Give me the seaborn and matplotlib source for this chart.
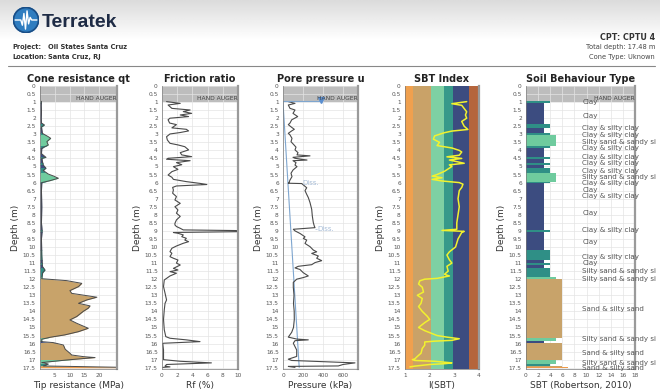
import numpy as np
import seaborn as sns
import matplotlib.pyplot as plt
from matplotlib.patches import Rectangle, Circle
from matplotlib.ticker import FuncFormatter, MultipleLocator

qt_depth = [0.95, 1.2, 1.6, 2.0, 2.3, 2.42, 2.55, 2.94, 3.15, 3.25, 3.46, 3.66, 3.87, 4.2, 4.43, 4.5,
            4.91, 5.1, 5.25, 5.47, 5.59, 5.73, 5.88, 6.0, 6.5, 7.5, 8.5, 9.0, 9.5, 10.5, 11.2, 11.43,
            11.6, 11.97, 12.09, 12.26, 12.46, 12.71, 12.88, 13.12, 13.29, 13.5, 13.66, 13.8, 14.0,
            14.32, 14.53, 14.74, 15.05, 15.26, 15.46, 15.61, 15.73, 15.88, 15.94, 16.09, 16.35, 16.6,
            16.71, 16.81, 16.87, 17.02, 17.18, 17.27, 17.39, 17.47, 17.5]
qt_val = [0.5, 0.4, 0.5, 0.4, 0.5, 1.5, 0.5, 0.8, 2.8, 3.6, 2.3, 2.8, 0.6, 0.5, 2.0, 0.6,
          1.1, 2.0, 1.1, 2.8, 4.5, 6.2, 3.4, 0.6, 0.5, 0.6, 0.5, 0.7, 0.5, 0.6, 0.8, 1.7,
          0.9, 0.6, 9.0, 14.1, 13.0, 10.1, 10.7, 19.2, 15.8, 13.0, 16.9, 16.3, 14.6,
          12.4, 10.1, 12.4, 16.3, 13.0, 8.4, 3.4, 0.6, 0.6, 4.5, 7.9, 8.5, 10.1,
          10.7, 14.6, 18.6, 9.0, 0.6, 2.8, 1.1, 25.9, 25.9]

rf_depth = [0.97, 1.08, 1.18, 1.39, 1.49, 1.59, 1.7, 1.8, 1.9, 2.0,
            2.1, 2.3, 2.4, 2.6, 2.69, 2.79, 2.89, 2.98, 3.15, 3.35,
            3.56, 3.66, 3.77, 3.97, 4.14, 4.28, 4.39, 4.49, 4.55, 4.64,
            4.76, 4.89, 5.01, 5.18, 5.32, 5.53, 5.67, 5.8, 5.94, 6.05,
            6.12, 6.21, 6.3, 6.46, 6.66, 6.87, 7.08, 7.29, 7.5, 7.7,
            7.9, 8.1, 8.32, 8.53, 8.63, 8.73, 8.84, 8.94, 8.98, 9.05,
            9.1, 9.15, 9.25, 9.36, 9.46, 9.57, 9.67, 9.77, 9.94, 10.08,
            10.29, 10.39, 10.6, 10.7, 10.81, 11.0, 11.12, 11.33, 11.43, 11.53,
            11.63, 11.8, 11.95, 12.05, 12.46, 12.87, 13.29, 13.5, 13.9, 14.5,
            15.15, 15.57, 15.67, 15.77, 15.88, 15.98, 16.0, 16.4, 16.8, 17.0,
            17.1, 17.2, 17.3, 17.4, 17.45, 17.48]
rf_val = [0.6, 2.4, 0.8, 1.3, 3.7, 2.8, 3.9, 2.4, 3.5, 1.05,
          0.8, 1.0, 1.9, 1.3, 3.2, 3.5, 2.4, 1.05, 0.6, 0.7,
          1.05, 2.1, 3.0, 3.5, 2.4, 2.6, 3.9, 0.8, 0.6, 3.7,
          1.9, 2.6, 1.5, 2.1, 1.3, 0.8, 1.3, 1.5, 3.2, 5.0,
          5.9, 1.9, 1.4, 1.5, 1.4, 1.9, 1.7, 2.4, 1.7, 2.1,
          1.9, 2.4, 1.9, 1.7, 1.7, 1.9, 2.4, 2.8, 9.8, 10.0,
          1.5, 2.1, 2.8, 2.6, 3.2, 3.0, 3.5, 2.8, 1.9, 1.3,
          1.05, 1.3, 1.05, 1.5, 2.1, 1.9, 2.4, 1.5, 2.1, 1.05,
          1.9, 1.05, 0.6, 0.3, 0.2, 0.4, 0.6, 0.4, 0.3, 0.2,
          0.3, 0.5, 1.05, 3.2, 5.0, 0.2, 0.1, 0.2, 0.2, 0.2,
          2.4, 6.5, 0.6, 0.4, 1.05, 0.1]

u_depth = [0.97, 1.08, 1.18, 1.39, 1.49, 1.7, 1.9, 2.1, 2.3, 2.4,
           2.57, 2.69, 2.79, 2.94, 3.04, 3.25, 3.46, 3.66, 3.8, 3.97,
           4.14, 4.28, 4.34, 4.43, 4.49, 4.6, 4.64, 4.76, 4.91, 5.01,
           5.22, 5.42, 5.63, 5.84, 6.0, 6.04, 6.06, 6.32, 6.5, 6.73,
           6.93, 7.24, 7.66, 8.07, 8.48, 8.7, 8.8, 8.9, 9.0, 9.16,
           9.37, 9.47, 9.57, 9.78, 9.98, 10.19, 10.3, 10.4, 10.56, 10.7,
           10.85, 10.97, 11.1, 11.2, 11.3, 11.4, 11.6, 11.8, 11.9, 12.0,
           12.2, 12.5, 13.0, 13.5, 14.0, 14.5, 15.0, 15.3, 15.6, 15.72,
           15.77, 15.82, 15.98, 16.4, 16.8, 16.97, 17.05, 17.2, 17.3, 17.39,
           17.42, 17.48]
u_val = [53, 120, 53, 70, 120, 100, 147, 87, 70, 53,
         87, 113, 87, 53, 70, 90, 80, 110, 130, 120,
         150, 140, 270, 100, 120, 240, 100, 130, 120, 140,
         100, 80, 90, 70, 60, 53, 187, 237, 220, 237,
         253, 270, 287, 293, 303, 313, 320, 103, 120, 170,
         220, 203, 237, 220, 270, 303, 337, 287, 353, 337,
         387, 320, 287, 153, 120, 170, 203, 253, 203, 137,
         103, 103, 110, 105, 112, 113, 105, 87, 53, 137,
         253, 120, 103, 137, 137, 53, 87, 720, 600, 553,
         53, 120]
hyd_depth = [1.0, 17.48]
hyd_val = [0, 162]

ic_depth = [0.97, 1.1, 1.2, 1.4, 1.6, 1.8, 2.0, 2.2, 2.5, 2.7,
            2.8, 2.9, 3.1, 3.3, 3.5, 3.7, 3.85, 4.0, 4.1, 4.3,
            4.4, 4.5, 4.6, 4.8, 4.9, 5.0, 5.2, 5.3, 5.5, 5.6,
            5.7, 5.8, 5.9, 6.0, 6.1, 6.3, 6.5, 7.0, 7.5, 8.0,
            8.5, 8.9, 8.97, 9.03, 9.1, 9.5, 10.0, 10.3, 10.5, 10.8,
            11.0, 11.2, 11.5, 11.7, 11.8, 11.95, 12.0, 12.1, 12.3, 12.5,
            12.8, 13.0, 13.2, 13.5, 13.7, 14.0, 14.3, 14.5, 14.7, 15.0,
            15.2, 15.5, 15.6, 15.7, 15.8, 15.85, 15.9, 16.1, 16.3, 16.6,
            16.8, 16.95, 17.0, 17.05, 17.1, 17.2, 17.25, 17.3, 17.4, 17.45]
ic_val = [3.5, 2.9, 3.3, 3.4, 3.5, 3.45, 3.5, 3.3, 3.4, 3.55,
          2.9, 2.6, 2.2, 2.15, 2.4, 2.3, 2.9, 3.2, 3.3, 3.2,
          2.7, 3.3, 2.8, 3.4, 2.8, 2.9, 2.7, 2.6, 2.3, 2.1,
          2.5, 2.1, 2.5, 3.2, 3.35, 3.3, 3.2, 3.15, 3.2, 3.15,
          3.1, 3.1, 2.5, 3.4, 3.3, 3.15, 3.05, 2.8, 2.7, 2.8,
          2.9, 2.7, 2.75, 2.6, 2.8, 2.3, 1.8, 1.6, 1.55, 1.7,
          1.75, 1.5, 1.7, 1.65, 1.55, 1.7, 1.9, 2.0, 1.8, 1.55,
          1.8, 2.3, 2.7, 3.2, 2.9, 2.2, 1.8, 1.8, 1.7, 1.65,
          1.5, 1.4, 1.3, 1.4, 2.2, 2.9, 2.6, 2.0, 1.4, 1.2]
ic_bounds = [1.0, 1.31, 2.05, 2.6, 2.95, 3.6, 4.0]
ic_colors = ['#F0A04E', '#C9A268', '#7ED0A3', '#36998A', '#3C4C80', '#B5653C']

sbt_top = [0.93, 1.08, 2.38, 2.63, 2.94, 3.04, 3.73, 3.87, 4.39, 4.55, 4.76, 4.91, 5.07, 5.38, 5.94,
           6.05, 8.95, 9.05, 10.19, 10.81, 11.0, 11.12, 11.33, 11.84, 12.01, 15.67, 15.82, 15.98,
           17.02, 17.27, 17.39, 17.44]
sbt_bot = [1.08, 2.38, 2.63, 2.94, 3.04, 3.73, 3.87, 4.39, 4.55, 4.76, 4.91, 5.07, 5.38, 5.94, 6.05,
           8.95, 9.05, 10.19, 10.81, 11.0, 11.12, 11.33, 11.84, 12.01, 15.67, 15.82, 15.98, 17.02,
           17.27, 17.39, 17.44, 17.5]
sbt_zone = [4, 3, 4, 3, 4, 5, 4, 3, 4, 3, 4, 3, 4, 5, 4,
            3, 4, 3, 4, 3, 4, 3, 4, 5, 6, 5, 3, 6,
            5, 4, 6, 7]
zone_colors = {3: '#3C4C80', 4: '#2F8F86', 5: '#6FCB9E', 6: '#C8A36A', 7: '#EE9B4B'}

# labels as they show in the log (long names run past the panel edge there)
label_depth = [1.01, 1.84, 2.59, 3.07, 3.46, 3.87, 4.43, 4.78, 5.26, 5.67, 6.05, 6.46, 6.83, 7.91,
               8.94, 9.67, 10.6, 11.0, 11.47, 12.0, 13.87, 15.73, 16.6, 17.19, 17.5]
label_text = ['Clay', 'Clay', 'Clay & silty clay', 'Clay & silty clay', 'Silty sand & sandy si',
              'Clay & silty clay', 'Clay & silty clay', 'Clay & silty clay', 'Clay & silty clay',
              'Silty sand & sandy si', 'Clay & silty clay', 'Clay', 'Clay & silty clay', 'Clay',
              'Clay & silty clay', 'Clay', 'Clay & silty clay', 'Clay', 'Silty sand & sandy si',
              'Silty sand & sandy si', 'Sand & silty sand', 'Silty sand & sandy si',
              'Sand & silty sand', 'Silty sand & sandy si', 'Sand & silty sand']

sns.set_style('white')
plt.rcParams['font.family'] = ['DejaVu Sans']

W, H = 660, 390
fig = plt.figure(figsize=(6.6, 3.9), dpi=100)


def px_rect(l, r, t, b):
    return [l / W, 1 - b / H, (r - l) / W, (b - t) / H]


# header background gradient
bg = fig.add_axes([0, 1 - 40 / H, 1, 40 / H], zorder=-5)
grad = np.linspace(0.86, 1.0, 50)[:, None] * np.ones((1, 10))
bg.imshow(grad, aspect='auto', cmap='gray', vmin=0, vmax=1, extent=[0, 1, 0, 1], origin='upper')
bg.axis('off')

# logo
lg = fig.add_axes(px_rect(13, 39, 7, 33))
lg.add_patch(Circle((0.5, 0.5), 0.48, color='#2F7DC0'))
lg.add_patch(Circle((0.5, 0.5), 0.48, fill=False, ec='#1A4E86', lw=1.2))
wx = [0.08, 0.3, 0.36, 0.42, 0.48, 0.54, 0.6, 0.66, 0.72, 0.92]
wy = [0.5, 0.5, 0.3, 0.75, 0.15, 0.85, 0.35, 0.6, 0.5, 0.5]
lg.plot(wx, wy, color='white', lw=1.0)
lg.set_xlim(0, 1)
lg.set_ylim(0, 1)
lg.set_aspect('equal')
lg.axis('off')

fig.text(42 / W, 1 - 27 / H, 'Terratek', fontsize=14, fontweight='bold', color='#1E2B45',
         va='baseline', family='Liberation Sans')
fig.text(12 / W, 1 - 47 / H, 'Project:', fontsize=4.8, fontweight='bold', color='#333', va='center')
fig.text(48 / W, 1 - 47 / H, 'Oil States Santa Cruz', fontsize=4.8, fontweight='bold', color='#333', va='center')
fig.text(12 / W, 1 - 57 / H, 'Location:', fontsize=4.8, fontweight='bold', color='#333', va='center')
fig.text(48 / W, 1 - 57 / H, 'Santa Cruz, RJ', fontsize=4.8, fontweight='bold', color='#333', va='center')
fig.text(655 / W, 1 - 37 / H, 'CPT: CPTU 4', fontsize=5.8, fontweight='bold', color='#333', va='center', ha='right')
fig.text(655 / W, 1 - 47 / H, 'Total depth: 17.48 m', fontsize=4.8, color='#444', va='center', ha='right')
fig.text(655 / W, 1 - 57 / H, 'Cone Type: Uknown', fontsize=4.8, color='#444', va='center', ha='right')
fig.add_artist(plt.Line2D([8 / W, 655 / W], [1 - 66 / H, 1 - 66 / H], color='#888', lw=0.8))

panels = [(40, 117), (162, 238), (283, 358), (405, 479), (526, 635)]
titles = ['Cone resistance qt', 'Friction ratio', 'Pore pressure u', 'SBT Index', 'Soil Behaviour Type']
xlabels = ['Tip resistance (MPa)', 'Rf (%)', 'Pressure (kPa)', 'I(SBT)', 'SBT (Robertson, 2010)']
xlims = [(0, 26), (0, 10), (0, 750), (1, 4), (0, 18)]
xticks = [[5, 10, 15, 20], [0, 2, 4, 6, 8, 10], [0, 200, 400, 600], [1, 2, 3, 4], list(range(0, 19, 2))]

axes = []
for i, (l, r) in enumerate(panels):
    ax = fig.add_axes(px_rect(l, r, 86, 369))
    ax.set_xlim(*xlims[i])
    ax.set_ylim(17.58, 0)
    ax.set_xticks(xticks[i])
    ax.yaxis.set_major_locator(MultipleLocator(0.5))
    ax.yaxis.set_major_formatter(FuncFormatter(lambda v, p: '%g' % v))
    ax.tick_params(labelsize=4.2, length=2, width=0.5, colors='#555', pad=1)
    ax.set_title(titles[i], fontsize=7, fontweight='bold', color='#222', pad=3)
    ax.set_xlabel(xlabels[i], fontsize=6.5, color='#333', labelpad=2)
    ax.set_ylabel('Depth (m)', fontsize=6.5, color='#333', labelpad=2)
    if i != 3:
        ax.grid(True, color='#E4E4E4', lw=0.5)
        ax.axhspan(0, 1.0, color='#BDBDBD', zorder=0.5, lw=0)
        ax.text(xlims[i][1], 0.78, 'HAND AUGER', fontsize=4.3, color='#444', ha='right', va='center', zorder=3)
    ax.set_axisbelow(True)
    for s in ['left', 'bottom']:
        ax.spines[s].set_color('#777')
        ax.spines[s].set_linewidth(0.5)
    ax.spines['top'].set_visible(False)
    ax.spines['right'].set_color('#9A9A9A')
    ax.spines['right'].set_linewidth(1.6)
    axes.append(ax)

# cone resistance, fill coloured by SBT zone
ax = axes[0]
for t, b, z in zip(sbt_top, sbt_bot, sbt_zone):
    poly = ax.fill_betweenx(qt_depth, 0, qt_val, color=zone_colors[z], lw=0, zorder=1)
    poly.set_clip_path(Rectangle((0, t), 30, b - t, transform=ax.transData))
sns.lineplot(x=qt_val, y=qt_depth, orient='y', estimator=None, sort=False, color='#4A4A4A', lw=0.7, ax=ax)

# friction ratio
sns.lineplot(x=rf_val, y=rf_depth, orient='y', estimator=None, sort=False, color='#4A4A4A', lw=0.8, ax=axes[1])

# pore pressure
ax = axes[2]
sns.lineplot(x=hyd_val, y=hyd_depth, orient='y', estimator=None, sort=False, color='#7FA6CF', lw=0.8, ax=ax)
sns.lineplot(x=u_val, y=u_depth, orient='y', estimator=None, sort=False, color='#4A4A4A', lw=0.8, ax=ax)
ax.plot([0, 380], [0.93, 0.93], color='#7FA6CF', lw=0.8)
ax.plot([380], [0.9], marker='v', color='#5B8FD0', ms=4)
ax.text(195, 6.0, 'Diss.', fontsize=5, color='#A7BDD8', va='center')
ax.text(345, 8.9, 'Diss.', fontsize=5, color='#A7BDD8', va='center')
ax.plot([320, 340], [8.88, 8.88], color='#A7BDD8', lw=0.5, ls='--')

# SBT index
ax = axes[3]
for k in range(len(ic_colors)):
    ax.axvspan(ic_bounds[k], ic_bounds[k + 1], color=ic_colors[k], lw=0, zorder=0)
sns.lineplot(x=ic_val, y=ic_depth, orient='y', estimator=None, sort=False, color='#F2F22E', lw=1.1, ax=ax)

# soil behaviour type bars
ax = axes[4]
heights = [b - t for t, b in zip(sbt_top, sbt_bot)]
ax.barh(sbt_top, sbt_zone, height=heights, left=0, align='edge',
        color=[zone_colors[z] for z in sbt_zone], lw=0, zorder=2)
for d, s in zip(label_depth, label_text):
    ax.text(9.3, d, s, fontsize=5.1, color='#555', va='center', clip_on=False, zorder=3)

for k, ax in enumerate(axes):
    ax.set_ylim(17.58, 0)
    ax.set_xlim(*xlims[k])

fig.savefig('out.png', dpi=100)
